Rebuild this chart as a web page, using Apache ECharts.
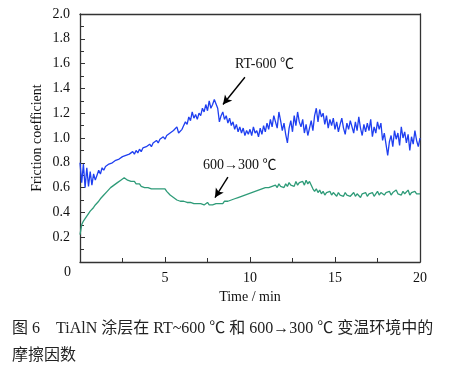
<!DOCTYPE html>
<html><head><meta charset="utf-8">
<script src="https://cdn.jsdelivr.net/npm/echarts@6/dist/echarts.min.js"></script>
<style>html,body{margin:0;padding:0;background:#fff}#c{width:456px;height:370px}</style>
</head><body><div id="c"></div>
<script>
// time step 0.1 min, from 0 to 20
const timeStart = 0, timeStep = 0.1;
const rt600 = [
0.80,0.64,0.79,0.60,0.76,0.61,0.73,0.62,0.71,0.66,
0.70,0.74,0.71,0.76,0.74,0.77,0.76,0.79,0.78,0.80,
0.79,0.82,0.81,0.83,0.82,0.85,0.84,0.86,0.85,0.87,
0.86,0.89,0.87,0.90,0.88,0.91,0.89,0.92,0.91,0.93,
0.92,0.95,0.93,0.96,0.95,0.98,0.96,0.99,0.98,1.01,
0.99,1.02,1.01,1.04,1.03,1.06,1.05,1.09,1.04,1.03,
1.07,1.10,1.13,1.11,1.17,1.14,1.21,1.16,1.19,1.15,
1.20,1.18,1.24,1.21,1.27,1.22,1.30,1.24,1.27,1.31,
1.32,1.24,1.13,1.18,1.21,1.15,1.18,1.12,1.16,1.10,
1.13,1.07,1.11,1.05,1.09,1.04,1.08,1.02,1.06,1.03,
1.07,1.02,1.09,1.04,1.06,1.01,1.08,1.03,1.10,1.05,
1.12,1.07,1.15,1.09,1.18,1.13,1.08,1.21,1.14,1.06,
1.12,1.03,0.96,1.08,1.14,1.05,1.18,1.10,1.21,1.13,
1.09,1.15,1.04,1.11,1.02,1.08,1.14,1.06,1.18,1.24,
1.13,1.23,1.17,1.20,1.11,1.18,1.08,1.15,1.10,1.16,
1.07,1.13,1.05,1.11,1.16,1.08,1.03,1.12,1.07,1.14,
1.09,1.04,1.13,1.06,1.17,1.08,1.02,1.11,1.05,1.12,
1.06,1.15,1.01,1.09,1.04,1.13,1.07,1.12,0.98,1.04,
0.95,0.86,0.97,1.02,0.93,1.06,0.99,1.04,0.94,1.09,
1.00,1.05,0.96,1.03,0.90,1.01,0.95,1.06,0.98,0.93,
1.00];
const t600to300 = [
0.22,0.30,0.33,0.35,0.37,0.39,0.41,0.42,0.44,0.46,
0.47,0.49,0.51,0.52,0.54,0.55,0.57,0.58,0.60,0.61,
0.62,0.63,0.64,0.65,0.66,0.67,0.68,0.67,0.66,0.67,
0.65,0.64,0.65,0.63,0.62,0.63,0.61,0.62,0.60,0.61,
0.60,0.61,0.59,0.60,0.59,0.60,0.59,0.60,0.59,0.58,
0.59,0.57,0.56,0.54,0.53,0.52,0.51,0.50,0.51,0.49,
0.50,0.49,0.50,0.48,0.49,0.48,0.49,0.47,0.48,0.47,
0.48,0.47,0.48,0.46,0.47,0.48,0.46,0.47,0.46,0.47,
0.47,0.48,0.47,0.48,0.47,0.49,0.48,0.49,0.48,0.50,
0.49,0.51,0.50,0.52,0.51,0.53,0.52,0.54,0.53,0.55,
0.54,0.56,0.55,0.57,0.56,0.58,0.57,0.59,0.58,0.60,
0.59,0.60,0.59,0.61,0.60,0.62,0.60,0.63,0.61,0.62,
0.60,0.63,0.61,0.64,0.62,0.63,0.61,0.65,0.62,0.64,
0.63,0.65,0.62,0.66,0.63,0.65,0.64,0.59,0.57,0.59,
0.56,0.58,0.55,0.57,0.54,0.56,0.55,0.57,0.54,0.56,
0.55,0.53,0.56,0.54,0.55,0.53,0.56,0.54,0.55,0.53,
0.54,0.56,0.53,0.55,0.54,0.52,0.55,0.54,0.56,0.53,
0.55,0.54,0.56,0.53,0.55,0.57,0.54,0.56,0.55,0.54,
0.56,0.55,0.57,0.54,0.56,0.55,0.58,0.55,0.56,0.54,
0.57,0.55,0.56,0.58,0.54,0.56,0.55,0.57,0.55,0.56,
0.55];
const xTicks = [0, 5, 10, 15, 20];
const yTicks = [0, 0.2, 0.4, 0.6, 0.8, 1.0, 1.2, 1.4, 1.6, 1.8, 2.0];
const labelRT = 'RT-600 ℃';
const label600 = '600→300 ℃';
const arrowRT = [[9.7, 1.49], [8.41, 1.27]];
const arrow600 = [[8.7, 0.685], [7.94, 0.52]];
const caption1 = '图 6　TiAlN 涂层在 RT~600 ℃ 和 600→300 ℃ 变温环境中的';
const caption2 = '摩擦因数';

const toPairs = arr => arr.map((v, i) => [+(timeStart + i * timeStep).toFixed(2), v]);
const SERIF = '"Liberation Serif","Noto Sans CJK SC",serif';
const AX = '#333';
const chart = echarts.init(document.getElementById('c'), null, {renderer: 'canvas'});
chart.setOption({
  animation: false,
  backgroundColor: '#fff',
  grid: {left: 80, top: 14, right: 36, bottom: 108},
  xAxis: [{
    type: 'value', min: xTicks[0], max: xTicks[xTicks.length - 1], interval: 5,
    name: 'Time / min', nameLocation: 'middle', nameGap: 28,
    nameTextStyle: {fontFamily: SERIF, fontSize: 14, color: '#111'},
    axisLine: {lineStyle: {color: AX, width: 1.3}},
    axisTick: {inside: true, length: 5, lineStyle: {color: AX}},
    minorTick: {show: true, splitNumber: 2, length: 4, lineStyle: {color: AX}},
    splitLine: {show: false},
    axisLabel: {fontFamily: SERIF, fontSize: 14, color: '#111', margin: 9,
      formatter: v => v === 0 ? '' : String(v)}
  }, {
    type: 'value', position: 'top', min: 0, max: 20,
    axisLine: {show: true, onZero: false, lineStyle: {color: AX, width: 1.3}},
    axisTick: {show: false}, axisLabel: {show: false}, splitLine: {show: false}
  }],
  yAxis: [{
    type: 'value', min: yTicks[0], max: yTicks[yTicks.length - 1], interval: 0.2,
    name: 'Friction coefficient', nameLocation: 'middle', nameGap: 36, nameMoveOverlap: false,
    nameTextStyle: {fontFamily: SERIF, fontSize: 14, color: '#111'},
    axisLine: {show: true, lineStyle: {color: AX, width: 1.3}},
    axisTick: {show: true, inside: true, length: 5, lineStyle: {color: AX}},
    minorTick: {show: true, splitNumber: 2, length: 4, lineStyle: {color: AX}},
    splitLine: {show: false},
    axisLabel: {fontFamily: SERIF, fontSize: 14, color: '#111', margin: 10,
      formatter: v => v === 0 ? '' : v.toFixed(1)}
  }, {
    type: 'value', position: 'right', min: 0, max: 2,
    axisLine: {show: true, onZero: false, lineStyle: {color: AX, width: 1.3}},
    axisTick: {show: false}, axisLabel: {show: false}, splitLine: {show: false}
  }],
  series: [{
    name: labelRT, type: 'line', showSymbol: false, data: toPairs(rt600),
    lineStyle: {color: '#1f3ff0', width: 1.3}, itemStyle: {color: '#1f3ff0'},
    markLine: {silent: true, symbol: ['none', 'arrow'], symbolSize: [7, 9],
      label: {show: false}, lineStyle: {color: '#000', width: 1.4, type: 'solid'},
      data: [[{coord: arrowRT[0]}, {coord: arrowRT[1]}]]}
  }, {
    name: label600, type: 'line', showSymbol: false, data: toPairs(t600to300),
    lineStyle: {color: '#2e9b78', width: 1.3}, itemStyle: {color: '#2e9b78'},
    markLine: {silent: true, symbol: ['none', 'arrow'], symbolSize: [7, 9],
      label: {show: false}, lineStyle: {color: '#000', width: 1.4, type: 'solid'},
      data: [[{coord: arrow600[0]}, {coord: arrow600[1]}]]}
  }],
  graphic: [
    {type: 'text', left: 64, top: 265, style: {text: String(xTicks[0]), font: '14px ' + SERIF, fill: '#111'}},
    {type: 'text', left: 235, top: 57, style: {text: labelRT, font: '14px ' + SERIF, fill: '#111'}},
    {type: 'text', left: 203, top: 158, style: {text: label600, font: '14px ' + SERIF, fill: '#111'}},
    {type: 'text', left: 12, top: 321, style: {text: caption1, font: '16px ' + SERIF, fill: '#222'}},
    {type: 'text', left: 12, top: 348, style: {text: caption2, font: '16px ' + SERIF, fill: '#222'}}
  ]
});
</script></body></html>
